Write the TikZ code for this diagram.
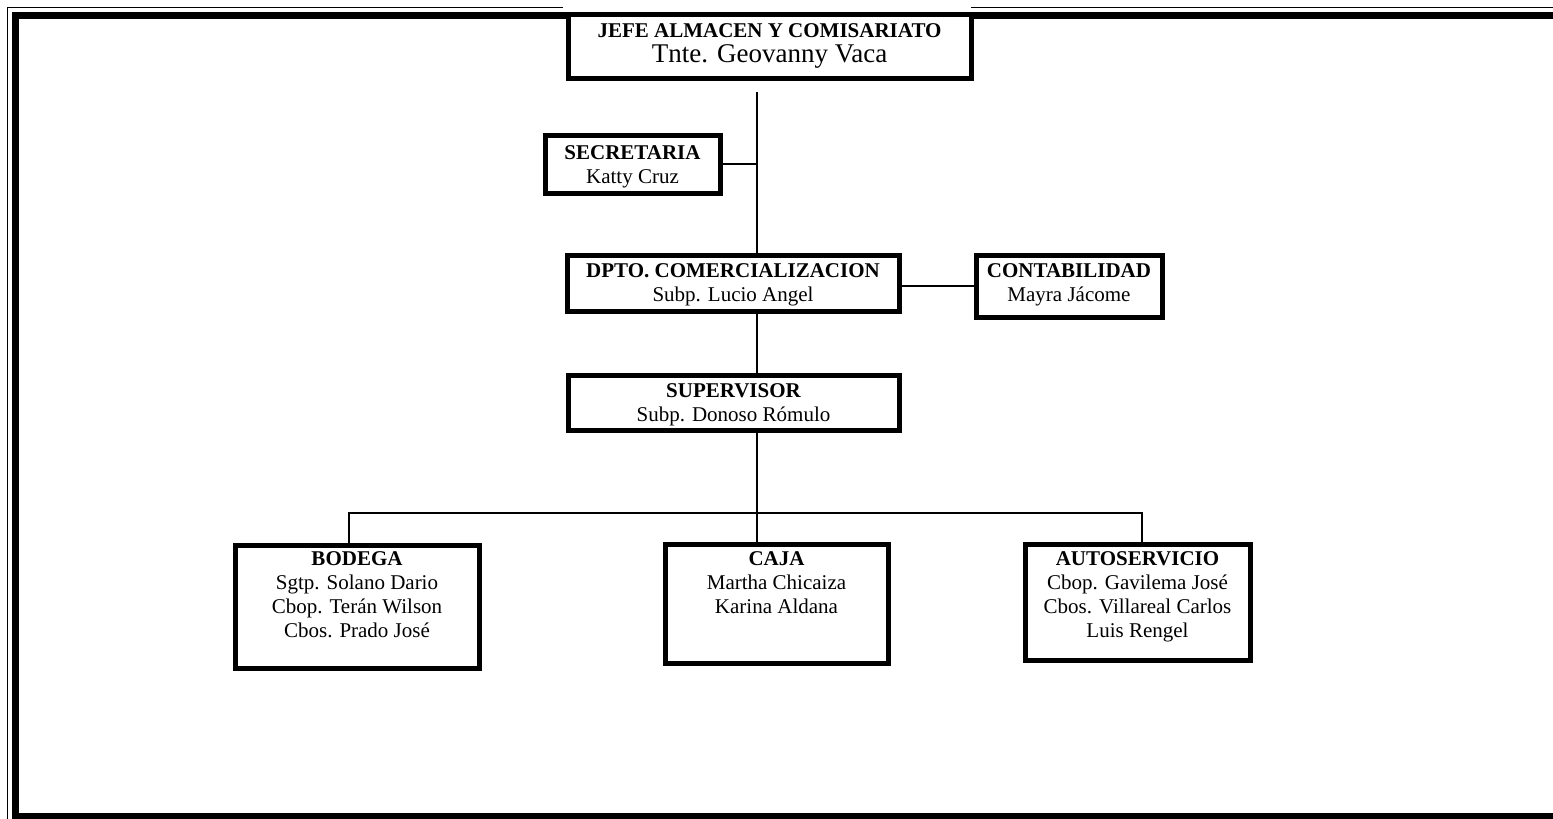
\documentclass[tikz,border=0pt]{standalone}
\usepackage{fontspec}
\setmainfont{Liberation Serif}
\begin{document}
\begin{tikzpicture}[x=1pt,y=1pt,
  unitbox/.style={draw, line width=5pt, fill=white, inner sep=0pt, anchor=north west},
  lbl/.style={anchor=base, inner sep=0pt, font=\fontsize{21}{24}\selectfont},
  link/.style={line width=2pt}]
\useasboundingbox (0,0) rectangle (1553,-819);

% page frame: thin outer rule and thick inner rule
\begin{scope}
  \clip (0,0) rectangle (1553,-819);
  \draw[line width=1.2pt] (7.5,-7.5) rectangle (1600,-900);
  \draw[line width=6.5pt] (15.5,-15.5) rectangle (1600,-816);
\end{scope}

% white margin of the head box over the thin rule
\fill[white] (563,-3) rectangle (971,-11.5);

% boxes
\node[unitbox, minimum width=403pt, minimum height=64pt]  (jefe)   at (565.5,-11.5)  {};
\node[unitbox, minimum width=175pt, minimum height=58pt]  (sec)    at (542.5,-132.5) {};
\node[unitbox, minimum width=332pt, minimum height=56pt]  (dpto)   at (564.5,-252.5) {};
\node[unitbox, minimum width=186pt, minimum height=62pt]  (contab) at (973.5,-252.5) {};
\node[unitbox, minimum width=331pt, minimum height=55pt]  (sup)    at (565.5,-372.5) {};
\node[unitbox, minimum width=244pt, minimum height=123pt] (bodega) at (232.5,-542.5) {};
\node[unitbox, minimum width=223pt, minimum height=119pt] (caja)   at (662.5,-541.5) {};
\node[unitbox, minimum width=225pt, minimum height=116pt] (auto)   at (1022.5,-541.5) {};

% texts
\node[lbl] (jefeT) at ([yshift=-25.5pt]jefe.north)
  {\begin{tabular}[t]{@{}c@{}}\bfseries JEFE ALMACEN Y COMISARIATO\\ \fontsize{27}{30}\selectfont Tnte. Geovanny Vaca\end{tabular}};
\node[lbl] (secT) at ([yshift=-26.5pt]sec.north)
  {\begin{tabular}[t]{@{}c@{}}\bfseries SECRETARIA\\ Katty Cruz\end{tabular}};
\node[lbl] (dptoT) at ([yshift=-24.5pt]dpto.north)
  {\begin{tabular}[t]{@{}c@{}}\bfseries DPTO. COMERCIALIZACION\\ Subp. Lucio Angel\end{tabular}};
\node[lbl] (contabT) at ([yshift=-24.5pt]contab.north)
  {\begin{tabular}[t]{@{}c@{}}\bfseries CONTABILIDAD\\ Mayra Jácome\end{tabular}};
\node[lbl] (supT) at ([yshift=-24.5pt]sup.north)
  {\begin{tabular}[t]{@{}c@{}}\bfseries SUPERVISOR\\ Subp. Donoso Rómulo\end{tabular}};
\node[lbl] (bodegaT) at ([yshift=-22.5pt]bodega.north)
  {\begin{tabular}[t]{@{}c@{}}\bfseries BODEGA\\ Sgtp. Solano Dario\\ Cbop. Terán Wilson\\ Cbos. Prado José\end{tabular}};
\node[lbl] (cajaT) at ([yshift=-23.5pt]caja.north)
  {\begin{tabular}[t]{@{}c@{}}\bfseries CAJA\\ Martha Chicaiza\\ Karina Aldana\end{tabular}};
\node[lbl] (autoT) at ([yshift=-23.5pt]auto.north)
  {\begin{tabular}[t]{@{}c@{}}\bfseries AUTOSERVICIO\\ Cbop. Gavilema José\\ Cbos. Villareal Carlos\\ Luis Rengel\end{tabular}};

% connectors
\coordinate (tx)   at (757,0);
\coordinate (busL) at (349,-513);
\coordinate (busR) at (1142,-513);
\draw[link] ([yshift=-11.5pt]jefe.south -| tx) -- (dpto.north -| tx);
\draw[link] (sec.east) -- (sec.east -| tx);
\draw[link] (contab.west -| dpto.east) -- (contab.west);
\draw[link] (dpto.south -| tx) -- (sup.north -| tx);
\draw[link] (sup.south -| tx) -- (tx |- busL);
\draw[link] (bodega.north -| busL) -- (busL) -- (busR) -- (auto.north -| busR);
\draw[link] (tx |- busL) -- (caja.north -| tx);
\end{tikzpicture}
\end{document}
